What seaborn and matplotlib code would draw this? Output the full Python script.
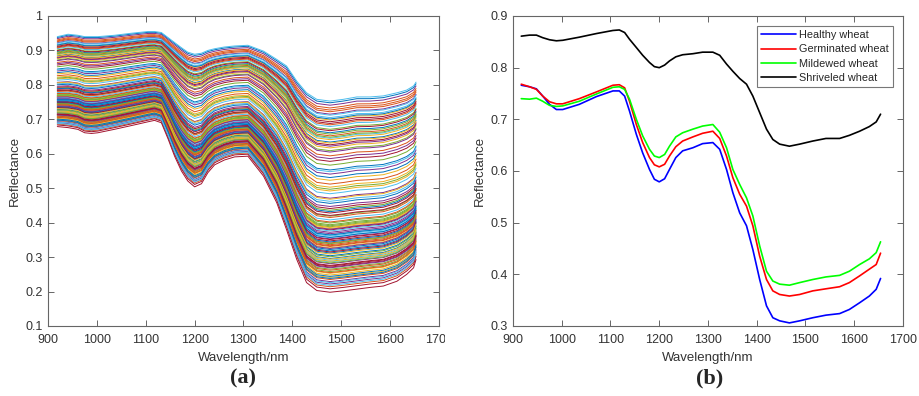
import numpy as np
import pandas as pd
import seaborn as sns
import matplotlib
matplotlib.use("Agg")
import matplotlib.pyplot as plt
from matplotlib.transforms import Bbox, TransformedBbox

# ---- panel (a): all sample spectra ----
wl_a = [919, 941, 961, 975, 989, 1002, 1036, 1071, 1105, 1118, 1132, 1146, 1159, 1173,
        1186, 1200, 1214, 1227, 1241, 1261, 1282, 1309, 1341, 1368, 1388, 1409, 1429,
        1450, 1477, 1504, 1532, 1559, 1586, 1614, 1634, 1648, 1653]
top_spectrum = [0.940, 0.947, 0.944, 0.940, 0.940, 0.940, 0.944, 0.950, 0.955, 0.955,
                0.952, 0.937, 0.923, 0.908, 0.895, 0.889, 0.892, 0.900, 0.905, 0.910,
                0.913, 0.915, 0.898, 0.874, 0.855, 0.811, 0.777, 0.758, 0.753, 0.758,
                0.765, 0.765, 0.768, 0.777, 0.785, 0.797, 0.808]
bottom_spectrum = [0.679, 0.676, 0.671, 0.661, 0.659, 0.661, 0.671, 0.682, 0.693, 0.697,
                   0.690, 0.642, 0.593, 0.550, 0.521, 0.504, 0.513, 0.545, 0.568, 0.582,
                   0.591, 0.593, 0.535, 0.458, 0.380, 0.293, 0.226, 0.203, 0.198, 0.202,
                   0.207, 0.212, 0.216, 0.230, 0.250, 0.269, 0.293]
# reflectance of each sample at 1477 nm, in plotting order
level_1477 = [
    0.312, 0.652, 0.248, 0.471, 0.388, 0.705, 0.276, 0.553, 0.341, 0.617, 0.229, 0.436, 0.365, 0.688, 0.296, 0.512, 0.327, 0.741, 0.258, 0.408,
    0.379, 0.634, 0.214, 0.492, 0.353, 0.671, 0.286, 0.578, 0.318, 0.722, 0.241, 0.447, 0.394, 0.645, 0.271, 0.531, 0.336, 0.698, 0.222, 0.419,
    0.361, 0.626, 0.304, 0.594, 0.383, 0.715, 0.265, 0.462, 0.347, 0.661, 0.235, 0.503, 0.372, 0.609, 0.291, 0.428, 0.322, 0.733, 0.253, 0.541,
    0.399, 0.679, 0.208, 0.456, 0.331, 0.641, 0.281, 0.567, 0.357, 0.693, 0.244, 0.415, 0.386, 0.622, 0.301, 0.484, 0.315, 0.748, 0.262, 0.523,
    0.368, 0.657, 0.226, 0.441, 0.344, 0.684, 0.288, 0.586, 0.391, 0.712, 0.198, 0.432, 0.333, 0.631, 0.269, 0.497, 0.376, 0.667, 0.238, 0.402,
    0.309, 0.605, 0.283, 0.548, 0.351, 0.701, 0.255, 0.468, 0.325, 0.648, 0.218, 0.421, 0.364, 0.727, 0.294, 0.381, 0.339, 0.753, 0.274, 0.357,
]

# ---- panel (b): class mean spectra ----
wl_b = [917, 934, 948, 961, 975, 989, 1002, 1036, 1071, 1105, 1118, 1129, 1139, 1153,
        1166, 1180, 1190, 1200, 1211, 1221, 1234, 1248, 1269, 1289, 1310, 1324, 1338,
        1351, 1365, 1379, 1392, 1406, 1420, 1433, 1447, 1467, 1488, 1515, 1542, 1570,
        1590, 1611, 1631, 1645, 1654]
healthy = [0.766, 0.763, 0.759, 0.745, 0.729, 0.719, 0.719, 0.729, 0.744, 0.755, 0.755,
           0.745, 0.716, 0.671, 0.635, 0.603, 0.584, 0.579, 0.585, 0.603, 0.626, 0.639,
           0.645, 0.653, 0.655, 0.642, 0.603, 0.558, 0.519, 0.494, 0.448, 0.390, 0.339,
           0.316, 0.310, 0.306, 0.310, 0.316, 0.321, 0.324, 0.332, 0.345, 0.358, 0.371,
           0.392]
germinated = [0.768, 0.763, 0.758, 0.745, 0.734, 0.730, 0.730, 0.740, 0.753, 0.766, 0.767,
              0.761, 0.735, 0.690, 0.655, 0.626, 0.612, 0.608, 0.613, 0.629, 0.647, 0.658,
              0.666, 0.673, 0.677, 0.663, 0.629, 0.587, 0.555, 0.532, 0.494, 0.435, 0.390,
              0.368, 0.361, 0.358, 0.361, 0.368, 0.372, 0.376, 0.384, 0.397, 0.410, 0.419,
              0.441]
mildewed = [0.740, 0.739, 0.741, 0.735, 0.727, 0.725, 0.726, 0.735, 0.749, 0.762, 0.763,
            0.758, 0.739, 0.700, 0.668, 0.642, 0.629, 0.626, 0.632, 0.648, 0.666, 0.674,
            0.681, 0.687, 0.690, 0.675, 0.645, 0.603, 0.574, 0.548, 0.513, 0.455, 0.406,
            0.387, 0.381, 0.379, 0.384, 0.390, 0.395, 0.398, 0.406, 0.419, 0.430, 0.442,
            0.463]
shriveled = [0.861, 0.863, 0.863, 0.858, 0.854, 0.852, 0.853, 0.859, 0.866, 0.872, 0.873,
             0.868, 0.855, 0.839, 0.824, 0.810, 0.802, 0.800, 0.805, 0.813, 0.821, 0.825,
             0.827, 0.830, 0.830, 0.824, 0.807, 0.793, 0.779, 0.768, 0.745, 0.713, 0.681,
             0.661, 0.652, 0.648, 0.652, 0.658, 0.663, 0.663, 0.669, 0.677, 0.686, 0.695,
             0.710]
classes = ["Healthy wheat", "Germinated wheat", "Mildewed wheat", "Shriveled wheat"]
class_colors = ["#0000ff", "#ff0000", "#00ff00", "#000000"]

matlab_colors = ["#0072bd", "#d95319", "#edb120", "#7e2f8e", "#77ac30", "#4dbeee", "#a2142f"]

sns.set_style("ticks")
plt.rcParams["font.family"] = ["Liberation Sans", "DejaVu Sans"]

# build long tables
top = np.array(top_spectrum)
bot = np.array(bottom_spectrum)
iref = wl_a.index(1477)
rows = []
for k, lv in enumerate(level_1477):
    frac = (lv - bot[iref]) / (top[iref] - bot[iref])
    spec = bot + frac * (top - bot)
    for w, r in zip(wl_a, spec):
        rows.append((k, w, r))
df_a = pd.DataFrame(rows, columns=["sample", "wavelength", "reflectance"])

df_b = pd.DataFrame({
    "wavelength": wl_b * 4,
    "reflectance": healthy + germinated + mildewed + shriveled,
    "wheat": sum([[c] * len(wl_b) for c in classes], []),
})

fig = plt.figure(figsize=(9.2, 3.96), dpi=100)
ax1 = fig.add_axes([48 / 920, 1 - 326 / 396, 391 / 920, 310 / 396])
ax2 = fig.add_axes([513 / 920, 1 - 326 / 396, 390 / 920, 310 / 396])

n = len(level_1477)
sns.lineplot(data=df_a, x="wavelength", y="reflectance", hue="sample",
             palette=[matlab_colors[i % 7] for i in range(n)], estimator=None,
             linewidth=0.7, legend=False, ax=ax1)

sns.lineplot(data=df_b, x="wavelength", y="reflectance", hue="wheat",
             hue_order=classes, palette=class_colors, estimator=None,
             linewidth=1.2, ax=ax2)

ax1.set_xlim(900, 1700)
ax1.set_ylim(0.1, 1.0)
ax1.set_xticks(range(900, 1701, 100))
ax1.set_yticks([0.1, 0.2, 0.3, 0.4, 0.5, 0.6, 0.7, 0.8, 0.9, 1.0])
ax1.set_yticklabels(["0.1", "0.2", "0.3", "0.4", "0.5", "0.6", "0.7", "0.8", "0.9", "1"])

ax2.set_xlim(900, 1700)
ax2.set_ylim(0.3, 0.9)
ax2.set_xticks(range(900, 1701, 100))
ax2.set_yticks([0.3, 0.4, 0.5, 0.6, 0.7, 0.8, 0.9])

for ax in (ax1, ax2):
    for s in ax.spines.values():
        s.set_visible(True)
        s.set_color("#666666")
        s.set_linewidth(0.8)
    ax.tick_params(direction="in", length=4, width=0.7, color="#666666",
                   labelsize=9, labelcolor="#333333", top=True, right=True)
    ax.tick_params(axis="x", pad=6)
    ax.tick_params(axis="y", pad=4)
    ax.set_xlabel("Wavelength/nm", fontsize=9.5, color="#333333", labelpad=4)
    ax.set_ylabel("Reflectance", fontsize=9.5, color="#333333", labelpad=3)

# panel (a) was cropped on its right edge
clip = TransformedBbox(Bbox([[0, 0], [445 / 920, 1]]), fig.transFigure)
fig.canvas.draw()
for t in ax1.get_xticklabels():
    t.set_clip_on(True)
    t.set_clip_box(clip)

leg = ax2.legend(loc="upper right", fontsize=7.8, frameon=True, fancybox=False,
                 handlelength=3.2, handletextpad=0.3, labelspacing=0.4,
                 borderaxespad=0.9, borderpad=0.4)
leg.get_frame().set_edgecolor("#555555")
leg.get_frame().set_linewidth(0.8)
for h in leg.get_lines():
    h.set_linewidth(1.2)

fig.text(243 / 920, 1 - 378 / 396, "(a)", ha="center", va="center",
         fontsize=16, fontweight="bold", family="Liberation Serif")
fig.text(710 / 920, 1 - 378 / 396, "(b)", ha="center", va="center",
         fontsize=16, fontweight="bold", family="Liberation Serif")

fig.savefig("out.png", dpi=100)
